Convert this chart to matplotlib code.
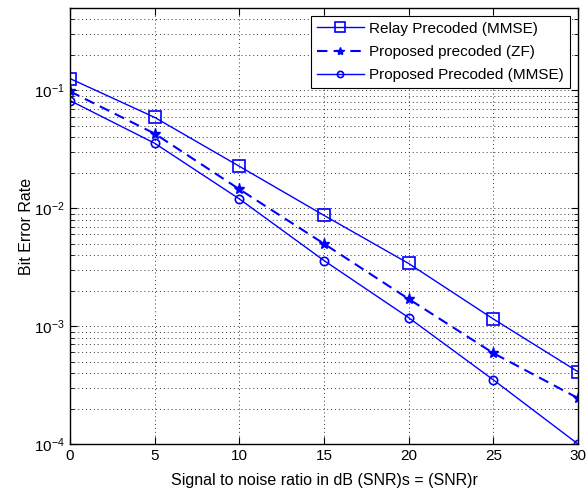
import matplotlib
matplotlib.use("Agg")
import matplotlib.pyplot as plt
from matplotlib.ticker import LogLocator, FixedLocator, NullFormatter

plt.rcParams['font.family'] = ['Liberation Sans', 'DejaVu Sans']
plt.rcParams['mathtext.fontset'] = 'custom'
plt.rcParams['mathtext.rm'] = 'Liberation Sans'
plt.rcParams['mathtext.it'] = 'Liberation Sans'

snr = [0, 5, 10, 15, 20, 25, 30]
relay_mmse = [0.126, 0.059, 0.0227, 0.0087, 0.0034, 0.00115, 0.00041]
prop_zf = [0.098, 0.043, 0.0145, 0.0050, 0.0017, 0.00059, 0.000245]
prop_mmse = [0.082, 0.0356, 0.0120, 0.0036, 0.00118, 0.00035, 0.0001]

fig = plt.figure(figsize=(5.87, 4.92), dpi=100)
ax = fig.add_axes([70/587, 48/492, 508/587, 436/492])
c = '#0000ff'
ax.semilogy(snr, relay_mmse, '-s', color=c, lw=1.0, ms=9, mfc='none', mew=1.2, label='Relay Precoded (MMSE)')
ax.semilogy(snr, prop_zf, '--*', color=c, lw=1.5, ms=8, mew=1.0, label='Proposed precoded (ZF)', dashes=(5, 3))
ax.semilogy(snr, prop_mmse, '-o', color=c, lw=1.0, ms=6, mfc='none', mew=1.2, label='Proposed Precoded (MMSE)')

ax.set_xlim(0, 30)
ax.set_ylim(1e-4, 0.5)
ax.xaxis.set_major_locator(FixedLocator(snr))
ax.yaxis.set_major_locator(LogLocator(base=10, numticks=10))
ax.yaxis.set_minor_locator(LogLocator(base=10, subs=range(2, 10), numticks=20))
ax.yaxis.set_minor_formatter(NullFormatter())
gls = (0, (1, 3))
ax.grid(True, which='major', axis='both', linestyle=gls, color='#333333', lw=0.7)
ax.grid(True, which='minor', axis='y', linestyle=gls, color='#333333', lw=0.7)
ax.tick_params(which='both', direction='in', top=True, right=True, labelsize=11)
ax.tick_params(which='major', length=5)
ax.tick_params(which='minor', length=3)
for s in ax.spines.values():
    s.set_linewidth(1.0)

ax.set_xlabel('Signal to noise ratio in dB (SNR)s = (SNR)r', fontsize=11.5, labelpad=7)
ax.set_ylabel('Bit Error Rate', fontsize=11.5, labelpad=0)

leg = ax.legend(loc='upper right', fontsize=11, fancybox=False, framealpha=1, edgecolor='k',
                borderaxespad=0.5, handlelength=3.1, handletextpad=0.35, borderpad=0.4,
                labelspacing=0.6, markerscale=0.75)
leg.get_frame().set_linewidth(0.8)

fig.savefig('out.png', dpi=100)
